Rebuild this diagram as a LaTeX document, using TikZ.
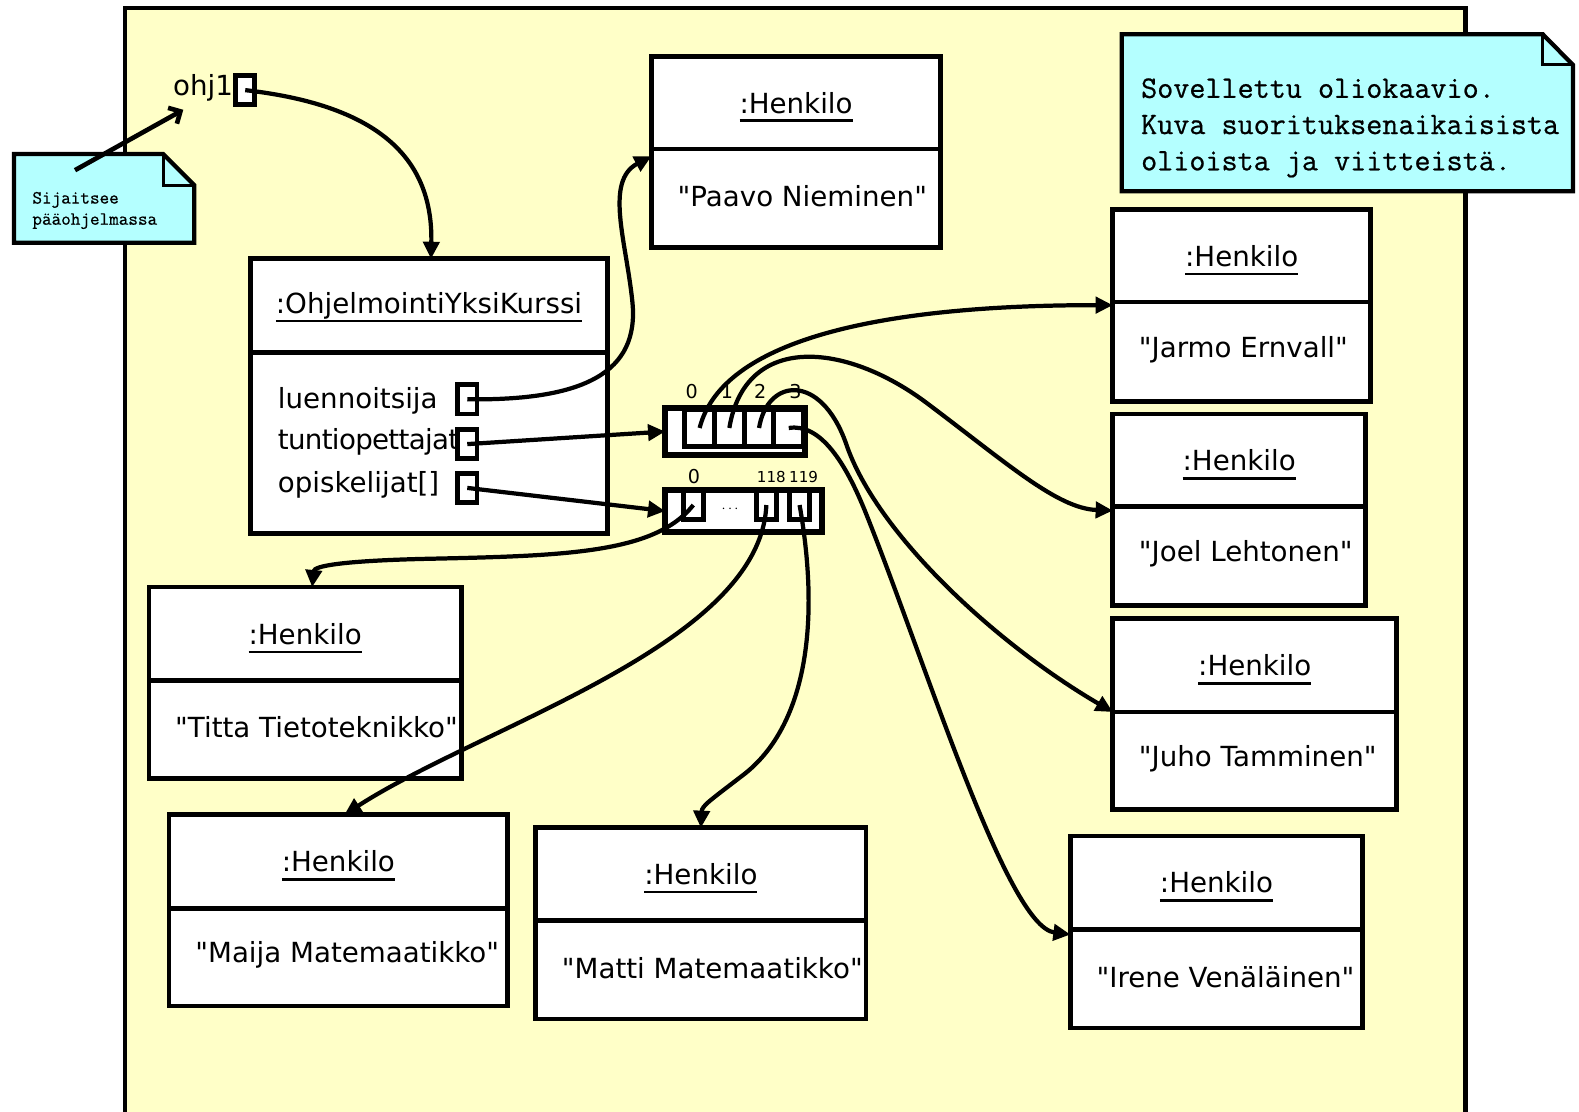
\documentclass[tikz,border=0pt]{standalone}
\usepackage{fontspec}
\setmainfont{DejaVu Sans}
\newfontfamily\notefont{Latin Modern Mono}[FakeBold=0.7]
\usetikzlibrary{arrows.meta}
\definecolor{framebg}{HTML}{FFFFC8}
\definecolor{notebg}{HTML}{B4FFFF}
% underlined object name; the rule does not count for the box height
\newcommand\ulbox[1]{\setbox0\hbox{#1}\rlap{\smash{\rule[-9pt]{\wd0}{2.6pt}}}\box0}
% quoted string value
\newcommand\qstr[1]{\textquotedbl#1\textquotedbl}
% object box: name, x, y, width, head height, body height, value text
\newcommand\objbox[7]{%
  \node[objpart, minimum width=#4pt, minimum height=#5pt] (#1H) at (#2,#3) {};
  \node[objpart, minimum width=#4pt, minimum height=#6pt] (#1) at (#1H.south west) {};
  \node[bigtxt] (#1T) at (#1H.center) {\ulbox{:Henkilo}};
  \node[bigtxt, anchor=west] (#1V) at ([xshift=26pt,yshift=2pt]#1.west) {\qstr{#7}};
}
\tikzset{
  objpart/.style={draw, fill=white, line width=4.6pt, inner sep=0pt, outer sep=0pt, anchor=north west},
  bigtxt/.style={font=\fontsize{27.5pt}{33pt}\selectfont, inner sep=0pt, outer sep=0pt},
  smalltxt/.style={font=\fontsize{19pt}{22pt}\selectfont, inner sep=0pt},
  tinytxt/.style={font=\fontsize{15pt}{18pt}\selectfont, inner sep=0pt},
  refbox/.style={draw, fill=white, line width=4.6pt, inner sep=0pt, outer sep=0pt, minimum width=19pt, minimum height=29pt},
  arrbox/.style={draw, fill=white, line width=6pt, inner sep=0pt, outer sep=0pt},
  slot/.style={draw, fill=white, line width=5pt, inner sep=0pt, outer sep=0pt},
  link/.style={line width=4.2pt, -{Triangle[length=17pt,width=16pt]}},
  notebox/.style={fill=notebg, draw, line width=4.2pt, line join=miter},
}
\begin{document}
\begin{tikzpicture}[x=1pt,y=-1pt]
\useasboundingbox (0,0) rectangle (1568,1104);

% program frame
\fill[framebg] (124,8) rectangle (1455,1112);
\draw[line width=4.6pt] (124,1112) -- (124,8) -- (1455,8) -- (1455,1112);

% notes
\draw[notebox] (1114,34) -- (1532,34) -- (1562,64.5) -- (1562,190) -- (1114,190) -- cycle;
\draw[line width=3pt] (1532,34) -- (1532,64.5) -- (1562,64.5);
\node[font=\notefont\fontsize{31pt}{36pt}\selectfont, align=left, anchor=west, inner sep=0pt] (bignote) at (1133,127)
  {Sovellettu oliokaavio.\\Kuva suorituksenaikaisista\\olioista ja viitteistä.};

\draw[notebox] (14,153) -- (162,153) -- (193,184) -- (193,241) -- (14,241) -- cycle;
\draw[line width=3pt] (162,153) -- (162,184) -- (193,184);
\node[font=\notefont\fontsize{18.5pt}{21pt}\selectfont, align=left, anchor=west, inner sep=0pt] (smallnote) at (32,209)
  {Sijaitsee\\pääohjelmassa};
\coordinate (notetail) at (74.5,169);
\coordinate (ohjhint) at (182,109);
\draw[line width=4.6pt, -{Straight Barb[length=9pt,width=18pt]}] (notetail) -- (ohjhint);

% main program variable
\node[bigtxt, anchor=west] (ohjname) at (172,87) {ohj1};
\node[refbox] (ohjref) at (243.5,89.5) {};

% course object
\node[objpart, minimum width=354pt, minimum height=93pt] (kurssiH) at (249,257) {};
\node[objpart, minimum width=354pt, minimum height=180pt] (kurssi) at (kurssiH.south west) {};
\node[bigtxt] (kurssiT) at (kurssiH.center) {\ulbox{:OhjelmointiYksiKurssi}};
\node[bigtxt, anchor=west] (attr1) at (276,398) {luennoitsija};
\node[bigtxt, anchor=west] (attr2) at (276,439) {\addfontfeatures{LetterSpace=-2.5}tuntiopettajat};
\node[bigtxt, anchor=west] (attr3) at (276,481) {opiskelijat[]};
\node[refbox] (lref) at (464,396.5) {};
\node[refbox] (tref) at (464,441) {};
\node[refbox] (oref) at (464,484.5) {};

% person objects
\objbox{paavo}{647}{56}{287}{92}{98}{Paavo Nieminen}
\objbox{jarmo}{1105}{208}{256}{92}{99}{Jarmo Ernvall}
\objbox{joel}{1105}{411}{251}{92}{98}{Joel Lehtonen}
\objbox{juho}{1105}{614}{282}{93}{97}{Juho Tamminen}
\objbox{irene}{1063}{830}{290}{93}{98}{Irene Venäläinen}
\objbox{titta}{148}{583}{310}{93}{97}{Titta Tietoteknikko}
\objbox{maija}{168}{809}{336}{93}{97}{Maija Matemaatikko}
\objbox{matti}{532}{822}{328}{92}{98}{Matti Matemaatikko}

% array of teaching assistants
\node[arrbox, minimum width=139pt, minimum height=46pt] (tarr) at (730,428.5) {};
\node[slot, minimum width=29.5pt, minimum height=36pt, anchor=north west] (t0) at (680,407) {};
\node[slot, minimum width=29.5pt, minimum height=36pt, anchor=north west] (t1) at (709.5,407) {};
\node[slot, minimum width=29.5pt, minimum height=36pt, anchor=north west] (t2) at (739,407) {};
\node[slot, minimum width=29.5pt, minimum height=36pt, anchor=north west] (t3) at (768.5,407) {};
\node[smalltxt] (tl0) at (687,389) {0};
\node[smalltxt] (tl1) at (722,389) {1};
\node[smalltxt] (tl2) at (755,389) {2};
\node[smalltxt] (tl3) at (790,389) {3};

% array of students
\node[arrbox, minimum width=156pt, minimum height=42pt] (oarr) at (738.5,507.5) {};
\node[slot, minimum width=20pt, minimum height=29pt, anchor=north] (o0) at (688.5,487) {};
\node[slot, minimum width=20pt, minimum height=29pt, anchor=north] (o118) at (761,487) {};
\node[slot, minimum width=20pt, minimum height=29pt, anchor=north] (o119) at (794,487) {};
\node[smalltxt] (ol0) at (689,473) {0};
\node[tinytxt] (ol118) at (766,474) {118};
\node[tinytxt] (ol119) at (798,474) {119};
\node[tinytxt] (odots) at (725,506) {$\cdots$};

% references
\draw[link] (ohjref.center) .. controls (380,105) and (430,160) .. ([xshift=2pt]kurssiH.north);
\draw[link] (lref.center) .. controls (580,398) and (635,370) .. (628,300)
  .. controls (622,240) and (600,180) .. ([yshift=-7pt]paavo.north west);
\draw[link] (tref.center) -- (tarr.west);
\draw[link] (oref.center) -- (oarr.west);

\draw[link] (t0.center) .. controls (715,345) and (850,303) .. ([yshift=-3pt]jarmo.north west);
\draw[link] (t1.center) .. controls (740,330) and (840,340) .. (920,400)
  .. controls (1000,460) and (1050,505) .. ([yshift=-4pt]joel.north west);
\draw[link] (t2.center) .. controls (762,375) and (815,370) .. (840,440)
  .. controls (870,530) and (990,640) .. (juho.north west);
\draw[link] (t3.center) .. controls (815,420) and (840,460) .. (860,510)
  .. controls (920,660) and (1000,920) .. ([yshift=-5pt]irene.north west);

\draw[link] (o0.center) .. controls (650,550) and (560,552) .. (420,555)
  .. controls (340,557) and (312,562) .. ([xshift=7pt]tittaH.north);
\draw[link] (o118.center) .. controls (755,640) and (480,720) .. ([xshift=6pt]maijaH.north);
\draw[link] (o119.center) .. controls (815,620) and (800,720) .. (740,768)
  .. controls (705,795) and (697,800) .. (mattiH.north);
\end{tikzpicture}
\end{document}
